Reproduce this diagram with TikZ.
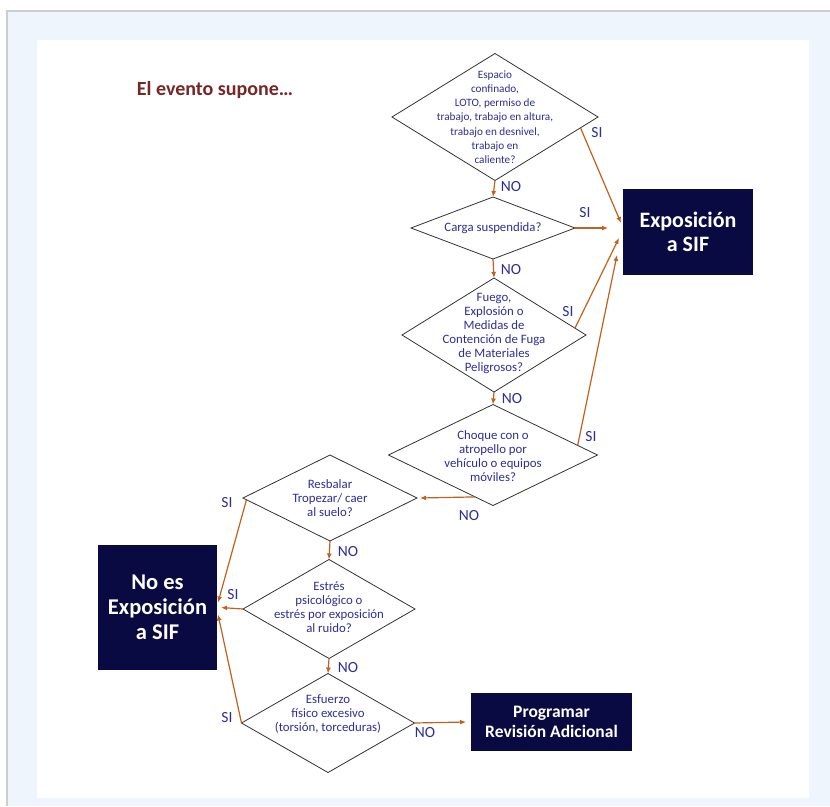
\documentclass[tikz,border=0pt]{standalone}
\usepackage{fontspec}
\setmainfont{Carlito}
\usetikzlibrary{shapes.geometric,arrows.meta,calc}
\definecolor{txtblue}{RGB}{46,46,150}
\definecolor{arr}{RGB}{192,98,30}
\definecolor{navy}{RGB}{10,10,66}
\definecolor{bgblue}{RGB}{238,245,252}
\definecolor{titlered}{RGB}{118,38,38}
\definecolor{framegray}{RGB}{205,205,205}
\begin{document}
\begin{tikzpicture}[x=1pt,y=-1pt,
  dia/.style={diamond, draw=black!80, line width=0.8pt, inner sep=0pt, outer sep=0pt},
  dtxt/.style={text=txtblue, align=center, inner sep=0pt, font=\fontsize{12.8}{14}\selectfont},
  darkbox/.style={fill=navy, text=white, align=center, inner sep=0pt, outer sep=0pt},
  arrw/.style={draw=arr, line width=1.2pt, -{Latex[length=6pt,width=5pt]}},
  lab/.style={text=txtblue, inner sep=0pt, font=\fontsize{15.5}{16}\selectfont}]
\useasboundingbox (0,0) rectangle (830,806);
% background
\fill[bgblue] (7,11) rectangle (830,806);
\draw[framegray, line width=1.5pt] (7,806) -- (7,11) -- (830,11);
\fill[white] (37,40) rectangle (809,798);

% title
\node[text=titlered, font=\fontsize{20}{22}\selectfont\bfseries, inner sep=0pt] (title) at (215,90) {El evento supone…};

% diamonds
\node[dia, minimum width=206pt, minimum height=127pt] (d1) at (495,117) {};
\node[dtxt, font=\fontsize{11.2}{14.2}\selectfont] (t1) at (d1.center) {Espacio\\confinado,\\LOTO, permiso de\\trabajo, trabajo en altura,\\trabajo en desnivel,\\trabajo en\\caliente?};
\node[dia, minimum width=164pt, minimum height=62pt] (d2) at (493,228) {};
\node[dtxt] (t2) at (d2.center) {Carga suspendida?};
\node[dia, minimum width=184pt, minimum height=114pt] (d3) at (494,335) {};
\node[dtxt] (t3) at (494,333) {Fuego,\\Explosión o\\Medidas de\\Contención de Fuga\\de Materiales\\Peligrosos?};
\node[dia, minimum width=209pt, minimum height=101pt] (d4) at (493,455) {};
\node[dtxt] (t4) at (493,456) {Choque con o\\atropello por\\vehículo o equipos\\móviles?};
\node[dia, minimum width=174pt, minimum height=86pt] (d5) at (330,498) {};
\node[dtxt] (t5) at (330,498) {Resbalar\\Tropezar/ caer\\al suelo?};
\node[dia, minimum width=172pt, minimum height=99pt] (d6) at (329,609) {};
\node[dtxt] (t6) at (329,607) {Estrés\\psicológico o\\estrés por exposición\\al ruido?};
\node[dia, minimum width=173pt, minimum height=99pt] (d7) at (328,723) {};
\node[dtxt] (t7) at (328,714) {Esfuerzo\\físico excesivo\\(torsión, torceduras)};

% result boxes
\node[darkbox, minimum width=130pt, minimum height=86pt, font=\fontsize{22}{24}\selectfont\bfseries] (expo) at (688,232) {Exposición\\a SIF};
\node[darkbox, minimum width=119pt, minimum height=125pt, font=\fontsize{22.5}{25}\selectfont\bfseries] (noexp) at (157.5,607.5) {No es\\Exposición\\a SIF};
\node[darkbox, minimum width=161pt, minimum height=58pt, font=\fontsize{17.5}{19.5}\selectfont\bfseries] (prog) at (551.5,722) {Programar\\Revisión Adicional};

% NO arrows down
\draw[arrw] (d1.south) -- (d2.north);
\draw[arrw] (d2.south) -- (d3.north);
\draw[arrw] (d3.south) -- (d4.north);
\draw[arrw] (d5.south) -- (d6.north);
\draw[arrw] (d6.south) -- (d7.north);
% NO side arrows
\draw[arrw] ($(d4.south)!0.17!(d4.west)$) -- ($(d5.east)+(3,0)$);
\draw[arrw] (d7.east) -- ($(prog.west)+(-5,0)$);
% SI arrows to Exposición
\draw[arrw] ($(d1.east)!0.17!(d1.south)$) -- ($(expo.west)+(-2,-9)$);
\draw[arrw] (d2.east) -- ($(expo.west)+(-15,-4)$);
\draw[arrw] ($(d3.east)!0.12!(d3.north)$) -- ($(expo.west)+(-4,6)$);
\draw[arrw] ($(d4.east)!0.19!(d4.north)$) -- ($(expo.west)+(-6,23)$);
% SI arrows to No es
\draw[arrw] ($(d5.west)!0.04!(d5.south)$) -- ($(noexp.east)+(1,-5)$);
\draw[arrw] (d6.west) -- ($(noexp.east)+(4,0)$);
\draw[arrw] (d7.west) -- ($(noexp.east)+(1,7)$);

% labels
\node[lab] (n1) at (511,187) {NO};
\node[lab] (n2) at (511,270) {NO};
\node[lab] (n3) at (512,399) {NO};
\node[lab] (n4) at (469,516) {NO};
\node[lab] (n5) at (348,552) {NO};
\node[lab] (n6) at (348,668) {NO};
\node[lab] (n7) at (425,733) {NO};
\node[lab] (s1) at (597,133) {SI};
\node[lab] (s2) at (585,213) {SI};
\node[lab] (s3) at (568,312) {SI};
\node[lab] (s4) at (591,437) {SI};
\node[lab] (s5) at (227,503) {SI};
\node[lab] (s6) at (233,595) {SI};
\node[lab] (s7) at (227,718) {SI};
\end{tikzpicture}
\end{document}
